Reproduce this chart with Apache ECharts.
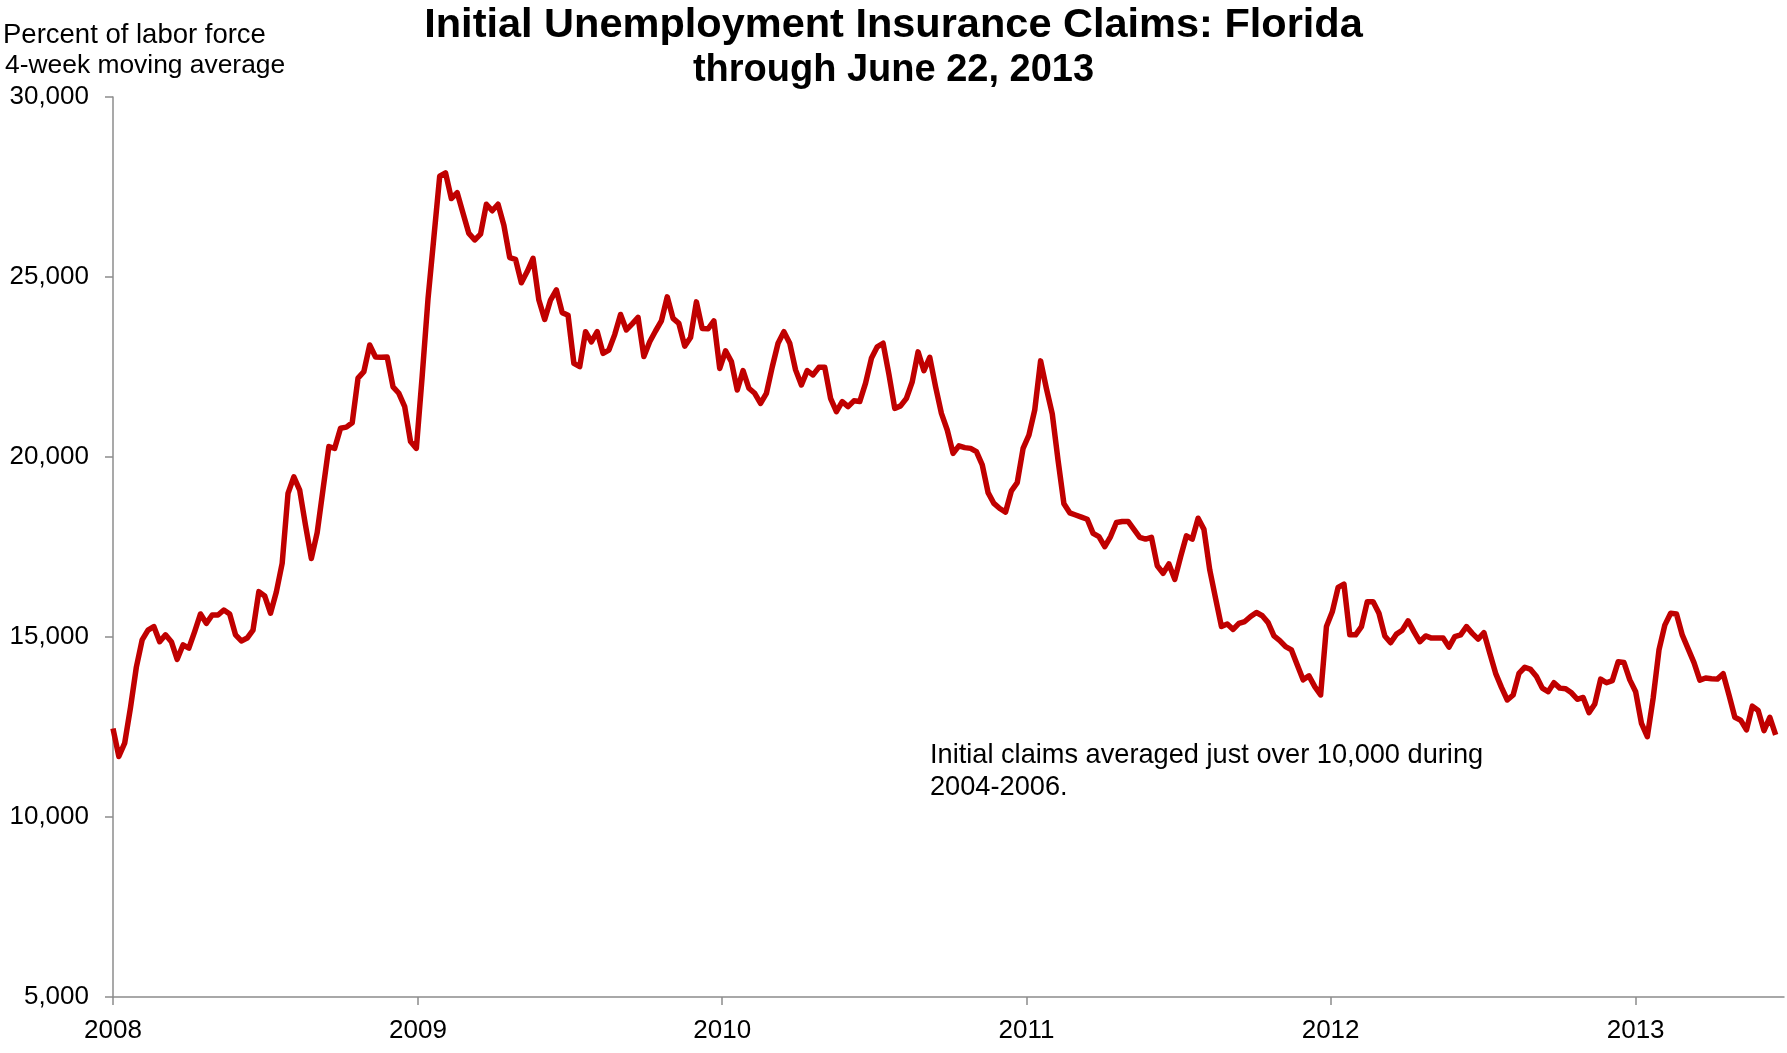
<!DOCTYPE html>
<html>
<head>
<meta charset="utf-8">
<title>Initial Unemployment Insurance Claims: Florida</title>
<script src="https://cdn.jsdelivr.net/npm/echarts@6/dist/echarts.min.js"></script>
<style>
  html, body { margin: 0; padding: 0; background: #ffffff; }
  #chart { width: 1787px; height: 1053px; }
</style>
</head>
<body>
<div id="chart"></div>
<script>
// Weekly initial claims, 4-week moving average, by calendar year of the week-ending date
const weekly2008 = [12460, 11680, 12050, 13040, 14160, 14920, 15190, 15290, 14870, 15060, 14870, 14380, 14780, 14690, 15150, 15640, 15380, 15610, 15610, 15750, 15640, 15060, 14890, 14970, 15190, 16260, 16140, 15660, 16250, 17050, 18990, 19450, 19080, 18100, 17180, 17900, 19100, 20290, 20240, 20800, 20830, 20950, 22190, 22370, 23110, 22780, 22770, 22780, 21950, 21770, 21400, 20430];
const weekly2009 = [20240, 22250, 24400, 26100, 27800, 27890, 27180, 27340, 26770, 26210, 26030, 26190, 27020, 26840, 27020, 26440, 25540, 25490, 24840, 25150, 25520, 24360, 23820, 24360, 24640, 24010, 23940, 22600, 22510, 23480, 23200, 23480, 22880, 22970, 23400, 23960, 23530, 23700, 23880, 22790, 23200, 23500, 23780, 24450, 23850, 23710, 23080, 23320, 24310, 23570, 23560, 23780];
const weekly2010 = [22460, 22950, 22650, 21860, 22400, 21910, 21770, 21490, 21770, 22500, 23160, 23480, 23160, 22420, 22000, 22400, 22280, 22490, 22490, 21630, 21260, 21540, 21400, 21560, 21540, 22050, 22740, 23060, 23160, 22300, 21350, 21420, 21630, 22090, 22920, 22400, 22770, 21950, 21210, 20750, 20100, 20310, 20260, 20240, 20150, 19780, 19010, 18710, 18570, 18470, 19060, 19290];
const weekly2011 = [20240, 20610, 21310, 22670, 21900, 21200, 19900, 18700, 18450, 18390, 18330, 18270, 17880, 17790, 17510, 17790, 18180, 18210, 18210, 17990, 17770, 17720, 17770, 16980, 16770, 17030, 16600, 17230, 17810, 17720, 18300, 17990, 16860, 16070, 15290, 15360, 15210, 15380, 15430, 15570, 15680, 15590, 15400, 15030, 14900, 14730, 14640, 14220, 13810, 13920, 13620, 13390, 15290];
const weekly2012 = [15700, 16380, 16470, 15060, 15060, 15290, 15980, 15980, 15660, 15030, 14840, 15080, 15190, 15450, 15150, 14870, 15030, 14970, 14970, 14970, 14720, 15010, 15060, 15290, 15100, 14940, 15120, 14550, 13990, 13600, 13250, 13390, 13990, 14160, 14100, 13900, 13580, 13480, 13730, 13580, 13560, 13450, 13270, 13320, 12900, 13140, 13830, 13730, 13790, 14310, 14290, 13810];
const weekly2013 = [13480, 12600, 12230, 13300, 14640, 15330, 15660, 15640, 15050, 14670, 14290, 13800, 13860, 13840, 13830, 13980, 13390, 12770, 12690, 12420, 13080, 12960, 12400, 12770, 12280];

// First week ending in the series and the end of the date axis
const firstWeek = [2008, 0, 5];
const axisEnd = [2013, 6, 2];
const yearLabels = [2008, 2009, 2010, 2011, 2012, 2013];

const titleText = 'Initial Unemployment Insurance Claims: Florida';
const subtitleText = 'through June 22, 2013';
const unitLines = ['Percent of labor force', '4-week moving average'];
const noteLines = ['Initial claims averaged just over 10,000 during', '2004-2006.'];

// x is measured in days since the first week ending
const DAY = 86400000;
const t0 = Date.UTC(firstWeek[0], firstWeek[1], firstWeek[2]);
const dayOf = (y, m, d) => Math.round((Date.UTC(y, m, d) - t0) / DAY);

const claims = [].concat(weekly2008, weekly2009, weekly2010, weekly2011, weekly2012, weekly2013);
const seriesData = claims.map((v, i) => [7 * i, v]);
const yearTicks = yearLabels.map(y => dayOf(y, firstWeek[1], firstWeek[2]));
const yearOfTick = v => {
  const k = yearTicks.indexOf(v);
  return k >= 0 ? String(yearLabels[k]) : '';
};

const fmt = v => String(v).replace(/\B(?=(\d{3})+(?!\d))/g, ',');
const FONT = '"Liberation Sans", Arial, sans-serif';
const AXIS_GRAY = '#8c8c8c';

const chart = echarts.init(document.getElementById('chart'), null, { renderer: 'canvas' });
chart.setOption({
  animation: false,
  backgroundColor: '#ffffff',
  textStyle: { fontFamily: FONT },
  grid: { left: 113, right: 3, top: 97, bottom: 56, containLabel: false },
  xAxis: {
    type: 'value',
    min: 0,
    max: dayOf(axisEnd[0], axisEnd[1], axisEnd[2]),
    axisLine: { show: true, lineStyle: { color: AXIS_GRAY, width: 1.5 } },
    axisTick: { show: true, length: 8, inside: false, customValues: yearTicks,
      lineStyle: { color: AXIS_GRAY, width: 1.5 } },
    axisLabel: {
      customValues: yearTicks,
      formatter: v => yearOfTick(v),
      color: '#000000', fontSize: 26, fontFamily: FONT, margin: 21
    },
    splitLine: { show: false }
  },
  yAxis: {
    type: 'value',
    min: 5000, max: 30000, interval: 5000,
    axisLine: { show: true, lineStyle: { color: AXIS_GRAY, width: 1.5 } },
    axisTick: { show: true, length: 8, inside: false, lineStyle: { color: AXIS_GRAY, width: 1.5 } },
    axisLabel: { formatter: v => fmt(v), color: '#000000', fontSize: 26, fontFamily: FONT, margin: 24 },
    splitLine: { show: false }
  },
  series: [{
    type: 'line',
    data: seriesData,
    showSymbol: false,
    symbol: 'none',
    lineStyle: { color: '#c00000', width: 5.5, join: 'round' },
    itemStyle: { color: '#c00000' },
    z: 3
  }],
  graphic: [
    { type: 'text', left: 'center', top: 5,
      style: { text: titleText, font: 'bold 41.5px ' + FONT, fill: '#000000' } },
    { type: 'text', left: 'center', top: 52,
      style: { text: subtitleText, font: 'bold 38px ' + FONT, fill: '#000000' } },
    { type: 'text', left: 3, top: 21,
      style: { text: unitLines[0], font: '27.5px ' + FONT, fill: '#000000' } },
    { type: 'text', left: 5, top: 53,
      style: { text: unitLines[1], font: '26.4px ' + FONT, fill: '#000000' } },
    { type: 'text', left: 930, top: 742,
      style: { text: noteLines[0], font: '27.2px ' + FONT, fill: '#000000' } },
    { type: 'text', left: 930, top: 774,
      style: { text: noteLines[1], font: '27.2px ' + FONT, fill: '#000000' } }
  ]
});
</script>
</body>
</html>
